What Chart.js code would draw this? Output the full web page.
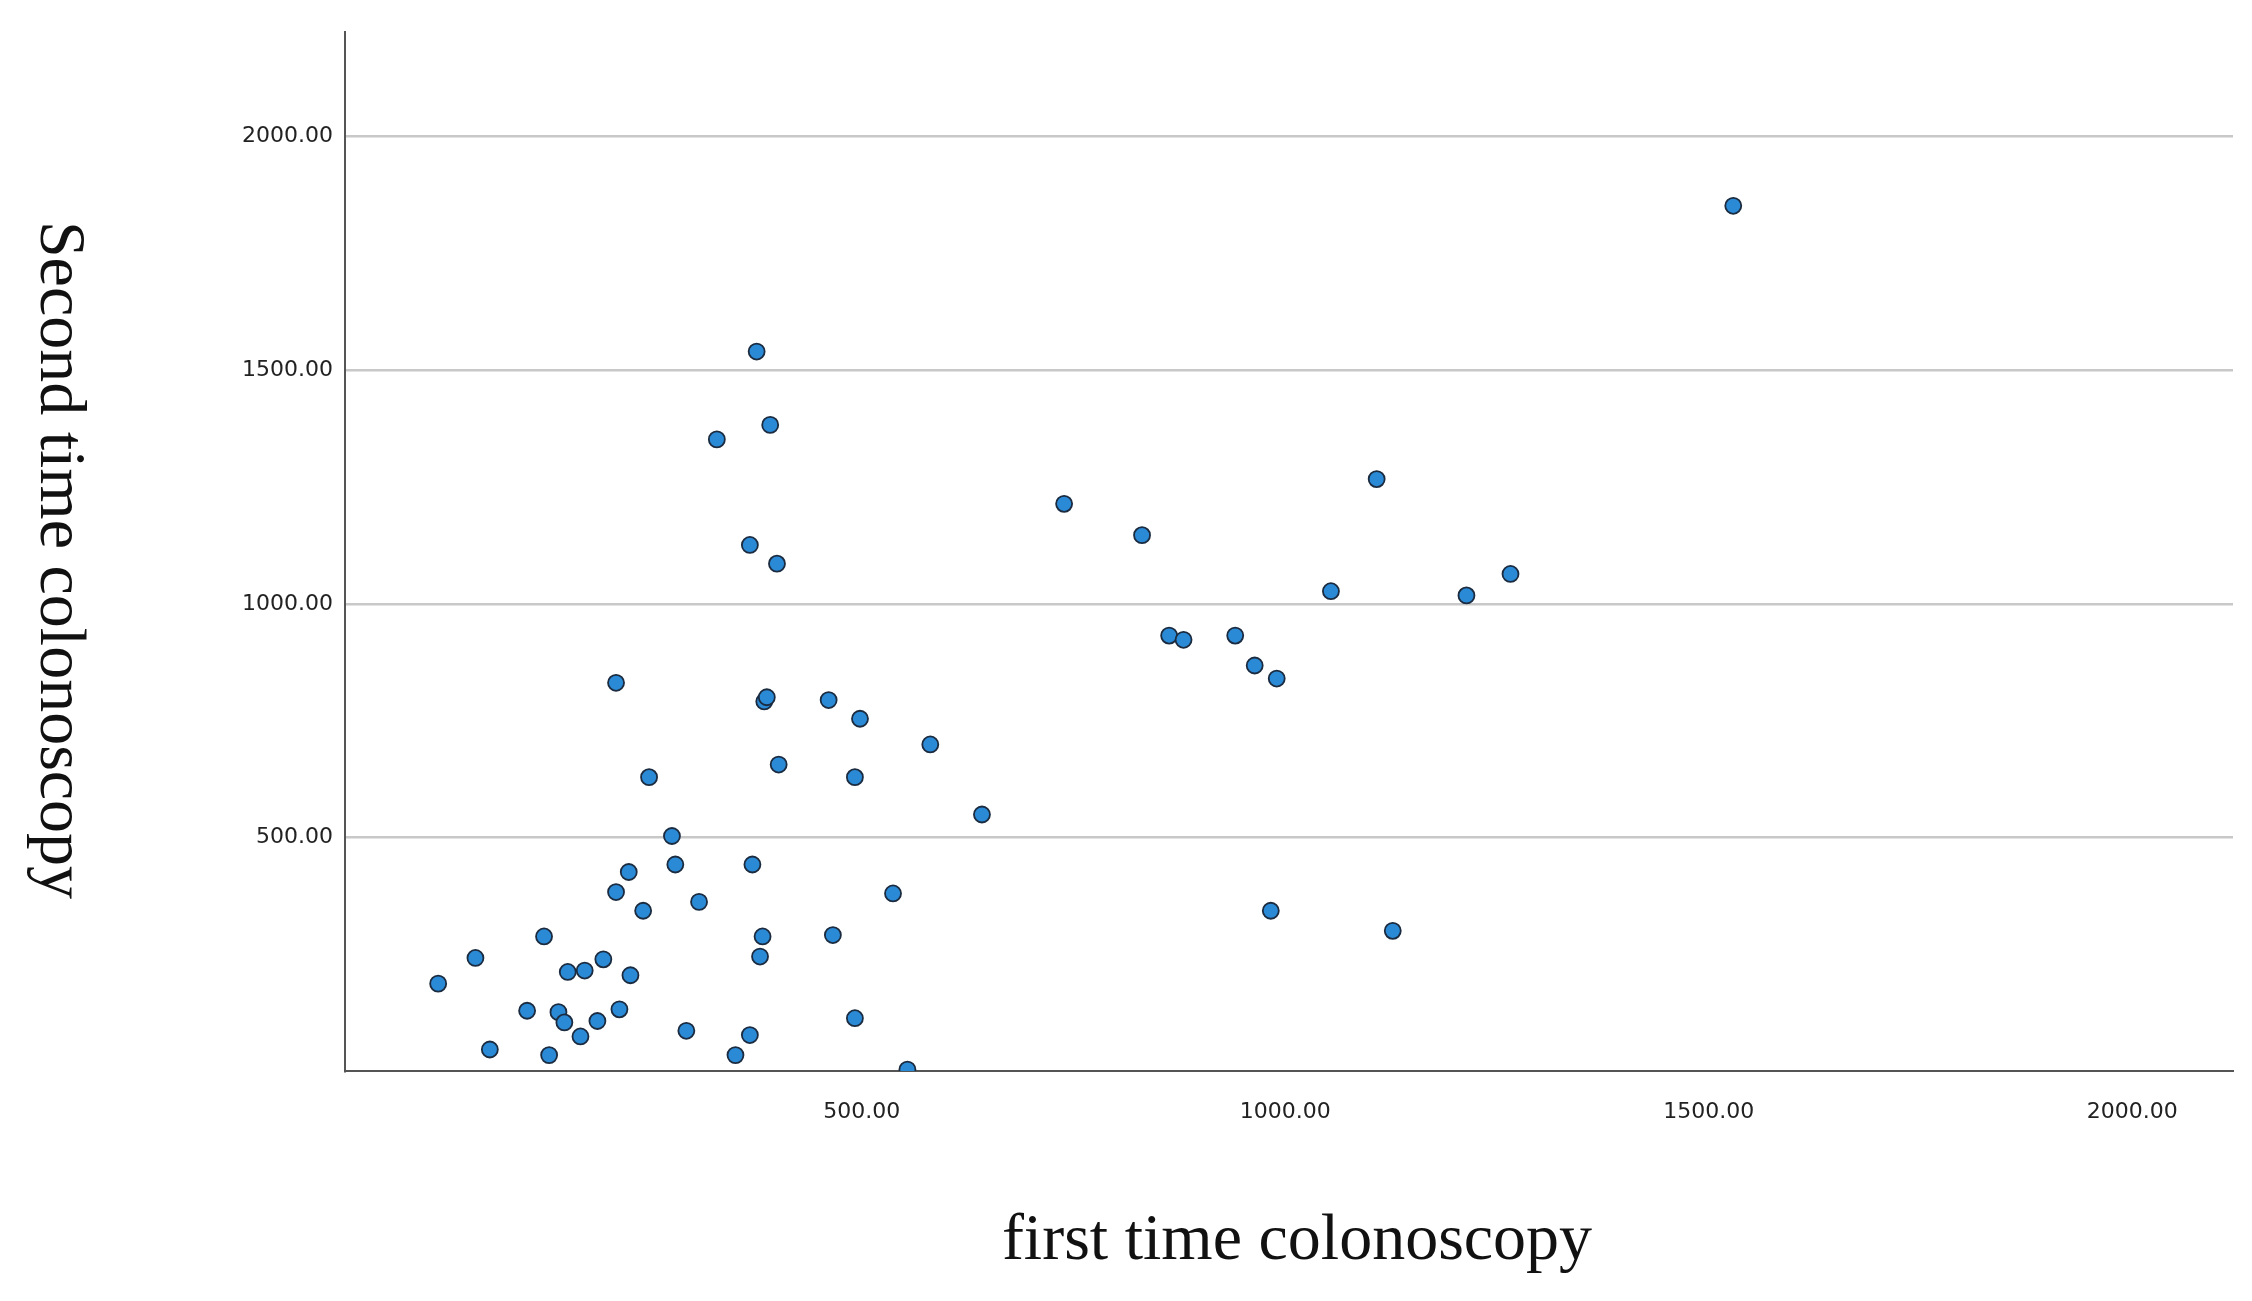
<!DOCTYPE html>
<html><head><meta charset="utf-8">
<script src="https://cdn.jsdelivr.net/npm/chart.js@4/dist/chart.umd.min.js"></script>
<style>html,body{margin:0;padding:0;background:#fff}#w{width:2252px;height:1301px}</style>
</head><body><div id="w"><canvas id="c"></canvas></div>
<script>
const firstTime = [0,44,61,105,125,131,142,149,153,168,173,188,195,210,210,214,225,227,242,249,276,280,293,308,329,351,368,368,371,376,380,383,385,388,392,400,402,461,466,492,492,498,537,554,581,642,739,831,863,880,941,964,983,990,1054,1108,1127,1214,1266,1529];
const secondTime = [187,242,46,129,288,34,126,104,212,74,215,107,239,831,383,132,426,205,343,629,503,442,86,362,1352,34,1126,77,442,1540,245,288,791,800,1383,1086,656,794,291,629,113,754,380,3,699,549,1214,1147,932,923,932,868,343,840,1027,1267,300,1018,1064,1852];
const tickValues = [500,1000,1500,2000];
const xTitle = 'first time colonoscopy';
const yTitle = 'Second time colonoscopy';

const titles = {
  id:'titles',
  afterDraw(chart){
    const ctx = chart.ctx;
    ctx.save();
    ctx.fillStyle = '#111';
    ctx.font = '66px "Liberation Serif", "DejaVu Serif", serif';
    ctx.textAlign = 'center'; ctx.textBaseline = 'middle';
    ctx.fillText(xTitle, 1297, 1242);
    ctx.translate(58, 560);
    ctx.rotate(Math.PI/2);
    ctx.fillText(yTitle, 0, 0);
    ctx.restore();
  }
};

const fmt = v => Number(v).toFixed(2);
new Chart(document.getElementById('c'), {
  type:'scatter',
  data:{datasets:[{
    data:firstTime.map((x,i)=>({x, y:secondTime[i]})),
    pointRadius:8, pointHoverRadius:8,
    backgroundColor:'#2b8ad6', borderColor:'#1b2b40', borderWidth:1.8
  }]},
  options:{
    responsive:true, maintainAspectRatio:false, animation:false,
    layout:{padding:{left:0,right:19,top:32,bottom:0}},
    plugins:{legend:{display:false}, tooltip:{enabled:false}},
    scales:{
      x:{type:'linear', min:-110, max:2119,
        afterBuildTicks(a){a.ticks = tickValues.map(v=>({value:v}));},
        afterFit(a){a.height = 230;},
        grid:{display:false},
        border:{display:true, color:'#555', width:2},
        ticks:{callback:fmt, color:'#222', font:{size:22, family:'"DejaVu Sans", sans-serif'}, padding:20, maxRotation:0}
      },
      y:{type:'linear', min:0, max:2224,
        afterBuildTicks(a){a.ticks = tickValues.map(v=>({value:v}));},
        afterFit(a){a.width = 345;},
        grid:{display:true, color:'#c8c8c8', lineWidth:2.5, drawTicks:false},
        border:{display:true, color:'#555', width:2},
        ticks:{callback:fmt, color:'#222', font:{size:22, family:'"DejaVu Sans", sans-serif'}, padding:12}
      }
    }
  },
  plugins:[titles]
});
</script></body></html>
